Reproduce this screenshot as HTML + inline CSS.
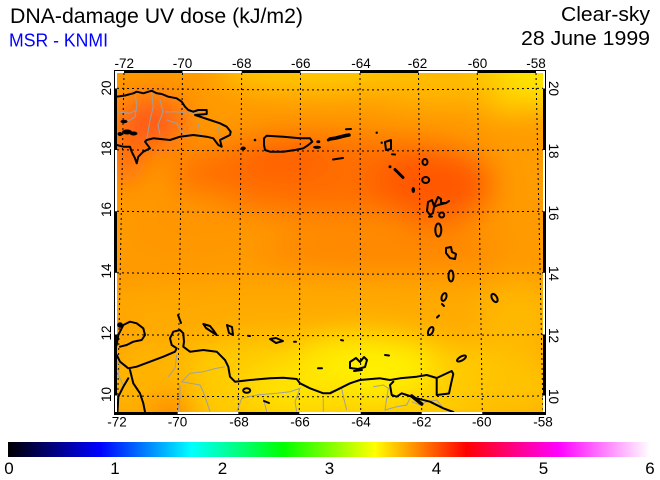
<!DOCTYPE html>
<html><head><meta charset="utf-8"><style>
html,body{margin:0;padding:0;background:#fff;}
svg{display:block;}
text{font-family:"Liberation Sans",Arial,sans-serif;}
</style></head><body>
<svg width="660" height="480" viewBox="0 0 660 480" xmlns="http://www.w3.org/2000/svg">
<defs>
<clipPath id="mc"><rect x="117" y="73" width="426" height="339"/></clipPath>
<filter id="bl" filterUnits="userSpaceOnUse" x="0" y="0" width="660" height="480"><feGaussianBlur stdDeviation="15"/></filter>
<linearGradient id="cb" x1="8" y1="0" x2="650" y2="0" gradientUnits="userSpaceOnUse">
<stop offset="0" stop-color="#000000"/>
<stop offset="0.1429" stop-color="#0000ff"/>
<stop offset="0.2857" stop-color="#00ffff"/>
<stop offset="0.4286" stop-color="#00ff00"/>
<stop offset="0.5714" stop-color="#ffff00"/>
<stop offset="0.7143" stop-color="#ff0000"/>
<stop offset="0.8571" stop-color="#ff00ff"/>
<stop offset="1" stop-color="#ffffff"/>
</linearGradient>
</defs>

<text x="10" y="23" font-size="21" textLength="293" lengthAdjust="spacingAndGlyphs" fill="#000">DNA-damage UV dose (kJ/m2)</text>
<text x="9" y="46.5" font-size="18" textLength="99" lengthAdjust="spacingAndGlyphs" fill="#0000ff">MSR - KNMI</text>
<text x="561" y="21" font-size="20.5" textLength="89" lengthAdjust="spacingAndGlyphs" fill="#000">Clear-sky</text>
<text x="521" y="45" font-size="20" textLength="129" lengthAdjust="spacingAndGlyphs" fill="#000">28 June 1999</text>

<g clip-path="url(#mc)">
<rect x="100" y="60" width="460" height="370" fill="#ff9a00"/>
<g filter="url(#bl)">
<rect x="80" y="40" width="500" height="410" fill="#ff9a00"/>
<ellipse cx="330" cy="66" rx="115" ry="25" fill="#ffca00"/>
<ellipse cx="545" cy="72" rx="85" ry="42" fill="#ffe600"/>
<ellipse cx="440" cy="82" rx="75" ry="20" fill="#ffbc00"/>
<ellipse cx="150" cy="122" rx="38" ry="28" fill="#ff5a18"/>
<ellipse cx="125" cy="160" rx="20" ry="25" fill="#ff6810"/>
<ellipse cx="330" cy="175" rx="160" ry="42" fill="#ff6e00"/>
<ellipse cx="285" cy="155" rx="45" ry="22" fill="#ff6000"/>
<ellipse cx="435" cy="185" rx="60" ry="40" fill="#ff5800"/>
<ellipse cx="535" cy="160" rx="35" ry="60" fill="#ff9c00"/>
<ellipse cx="190" cy="222" rx="55" ry="30" fill="#ff9600"/>
<ellipse cx="380" cy="250" rx="120" ry="25" fill="#ff8800"/>
<ellipse cx="330" cy="310" rx="260" ry="30" fill="#ffaa00"/>
<ellipse cx="330" cy="385" rx="240" ry="50" fill="#ffcc00"/>
<ellipse cx="365" cy="368" rx="70" ry="32" fill="#fff000"/>
<ellipse cx="300" cy="388" rx="50" ry="25" fill="#ffe400"/>
<ellipse cx="150" cy="380" rx="45" ry="45" fill="#ffb400"/>
<ellipse cx="172" cy="414" rx="20" ry="14" fill="#ff6a00"/>
<ellipse cx="515" cy="392" rx="50" ry="30" fill="#ffc200"/>
<ellipse cx="520" cy="320" rx="40" ry="40" fill="#ffb800"/>
</g>

<g stroke="#000" stroke-width="1" stroke-dasharray="2 3" fill="none">
<line x1="124" y1="73" x2="117.5" y2="412"/>
<line x1="182.5" y1="73" x2="177.7" y2="412"/>
<line x1="241.7" y1="73" x2="238.3" y2="412"/>
<line x1="300.5" y1="73" x2="299.3" y2="412"/>
<line x1="360" y1="73" x2="360.7" y2="412"/>
<line x1="418.5" y1="73" x2="421.7" y2="412"/>
<line x1="477.3" y1="73" x2="482.3" y2="412"/>
<line x1="536" y1="73" x2="543" y2="412"/>
<path d="M117,88.3 Q330,91.5 543,88.3"/>
<path d="M117,149.8 Q330,152.2 543,149.8"/>
<path d="M117,211.3 Q330,214 543,211.3"/>
<path d="M117,272.8 Q330,275.5 543,272.8"/>
<path d="M117,334.7 Q330,336.5 543,334.7"/>
<path d="M117,396 Q330,397.5 543,396"/>
</g>

<g stroke="#a0a0a0" stroke-width="1" fill="none">
<polyline points="151.7,91 152.5,101.7 153.3,106.7 150,120 146.7,140"/>
<polyline points="116.7,111.7 130,113.3 136.7,110"/>
<polyline points="135,95 137,105 135,117 130,120 125,122"/>
<polyline points="166.7,120 176.7,123.3 183.3,133.3 188.3,135"/>
<polyline points="165,112 176.7,111.7 186.7,113.3 200,113"/>
<polyline points="198.3,123.3 200,133.3 201.7,138.3"/>
<polyline points="218.3,126.7 220,136.7 225,141.7"/>
<polyline points="160,100 163,112 158,125 160,135"/>
<polyline points="116.7,361.7 120,365 118.3,375 123.3,385"/>
<polyline points="176.7,355 175,368.3 168.3,376.7"/>
<polyline points="181.7,381.7 190,373.3 203.3,371.7 216.7,368.3 225,366.7"/>
<polyline points="181.7,381.7 200,385 203.3,391.7 206.7,401.7 210,411.7"/>
<polyline points="180,385 180,398 178,412"/>
<polyline points="236.7,411.7 241.7,398.3 256.7,395 276.7,393.3 290,391.7 300,388.3 295,401.7 296.7,411.7"/>
<polyline points="263.3,398.3 266.7,411.7"/>
<polyline points="323.3,398.3 323.3,411.7"/>
<polyline points="330,391.7 341.7,388.3 343.3,396.7 346.7,410"/>
<polyline points="373.3,386.7 383.3,385 388.3,388.3 386.7,398.3 385,410 396.7,406.7 406.7,405 410,398.3"/>
<polyline points="411.7,401.7 420,405 426.7,401.7 436.7,400 443.3,408.3"/>
</g>

<g stroke="#000" stroke-width="2" fill="none" stroke-linejoin="round" stroke-linecap="round">
<path d="M116.7,96.7 L125,95.5 L133.3,93.3 L136.7,91.7 L143.3,93.3 L151.7,90.7 L156.7,93.3 L161.7,94 L168.3,96.7 L176.7,98.3 L181.7,101.7 L185,106.7 L188.3,110 L193.3,111.7 L198.3,110 L206.7,110 L206.7,114 L195,115 L200,116.7 L210,120 L220,123.3 L226.7,126.7 L230.7,131.7 L230,135 L223.3,138.3 L220,140 L221.7,146.7 L218.3,145 L213.3,138.3 L206.7,136.7 L193.3,135 L180,136.7 L170,140 L153.3,138.3 L146.7,140 L145,141.7 L150,148.3 L143.3,151.7 L138.3,156.7 L136.7,163.3 L135,158.3 L131.7,151.7 L130,146.7 L123.3,146.7 L116.7,145"/>
<path d="M264,138.3 L266.7,135.7 L283.3,136.7 L300,138.3 L310,138.3 L312.3,141.7 L308.3,145 L303.3,148.3 L295,150 L283.3,151.7 L270,151.7 L265,150 L264,145 Z"/>
<path d="M330,139 L336,138 L340,137 L346,135.5 L349,135" stroke-width="3.5"/>
<path d="M346,129.3 L351,129"/>
<path d="M333,159.5 L343,158"/>
<path d="M385,142 L391,140 L391,149 L386,150 Z"/>
<path d="M392,154.3 L395,154.5"/>
<path d="M395,169.5 L403,177.5" stroke-width="3"/>
<ellipse cx="425" cy="162" rx="2.5" ry="3"/>
<ellipse cx="425.7" cy="180" rx="3.5" ry="3"/>
<path d="M428,202 L432,200 L434,206 L438,197 L441,199 L441,203 L446,203 L438,205 L434,207 L433,213 L430,215 L427,211 Z"/>
<path d="M446,203 L449,201"/>
<circle cx="441.7" cy="215" r="2.5"/>
<path d="M429,216.7 L432,216.5"/>
<ellipse cx="438.3" cy="230" rx="3" ry="6.5"/>
<path d="M446,248 L451,247 L452,252 L456,254 L455,259 L450,258 L446,253 Z"/>
<ellipse cx="451" cy="276" rx="2.5" ry="5.5"/>
<ellipse cx="444" cy="297" rx="2.3" ry="4" transform="rotate(20 444 297)"/>
<path d="M442,304 L444,306"/>
<path d="M437,317.5 L439,315.5"/>
<ellipse cx="430.7" cy="331" rx="2.3" ry="4.3" transform="rotate(25 430.7 331)"/>
<ellipse cx="494.5" cy="298" rx="2.5" ry="4.5" transform="rotate(-30 494.5 298)"/>
<ellipse cx="461.5" cy="358.5" rx="5" ry="2" transform="rotate(-30 461.5 358.5)"/>
<path d="M116.7,345 L118.3,335 L123.3,325 L130,321.7 L136.7,323.3 L143.3,328.3 L145,335 L141.7,340 L133.3,341.7 L126.7,345 L120,346.7"/>
<path d="M116.7,355 L120,361.7 L128.3,368.3 L136.7,366.7 L150,361.7 L163.3,356.7 L175,351.7 L176.7,348.3 L171.7,345 L170,338.3 L173.3,331.7 L180,330 L183.3,333.3 L184,341.7 L183.3,346.7 L190,351.7 L203.3,350 L216.7,351.7 L225,360 L228.3,366.7 L230,376.7 L235,381.7 L250,380 L270,378.3 L283.3,377.7 L296.7,379 L300,383.3 L310,388.3 L323.3,393.3 L330,393.3 L340,388.3 L350,383.3 L360,380 L380,378.3 L390,380 L400,378.3 L416.7,376.7 L426.7,375 L436.7,378"/>
<path d="M130,370 L133.3,383.3 L140,393.3 L143.3,403.3 L145,412"/>
<path d="M128.3,378.3 L123.3,386.7 L118.3,396.7 L117.5,412"/>
<path d="M393.3,381.7 L390,385 L391.7,395 L396.7,396.7 L401.7,393.3 L406.7,395 L416.7,398.3 L430,401.7 L443.3,408.3 L453.3,412"/>
<path d="M411.7,396 L421.7,404" stroke-width="3.5"/>
<path d="M436.7,378 L451.7,371 L453.3,374 L451,384 L449,393.5 L436.7,395 Z"/>
<path d="M350,362 L356,358 L360,362 L364,357 L367,360 L365,367 L358,369 L350,368 Z"/>
<path d="M354,371 L362,370"/>
<path d="M178,315 L181,323"/>
<path d="M203.3,324 L210,326 L214,331 L216.7,335 L212,332 L206,328 Z"/>
<path d="M227,325 L232,327 L233,335 L229,333 Z"/>
<path d="M248,335.7 L250,336"/>
<path d="M270,339 L276,338 L283,341 L276,343 Z"/>
<path d="M294,341.7 L296,341.7"/>
<path d="M318,368.3 L322,368.3"/>
<ellipse cx="246.7" cy="390.5" rx="3.5" ry="2.3"/>
<path d="M264,401 L269,403"/>
<path d="M341,340 L343,340.5"/>
<path d="M385,355 L389,355.5"/>
</g>
<g fill="#000">
<circle cx="255" cy="140" r="1.3"/>
<ellipse cx="243.3" cy="148.3" rx="2.5" ry="1.8"/>
<ellipse cx="318.3" cy="141.7" rx="2" ry="1.5"/>
<ellipse cx="317" cy="147.3" rx="4" ry="1.6"/>
<circle cx="328.3" cy="140" r="1.5"/>
<circle cx="376.7" cy="132.7" r="1.2"/>
<circle cx="381.7" cy="142.7" r="1.2"/>
<circle cx="390" cy="166.7" r="1.5"/>
<ellipse cx="413.3" cy="190" rx="1.8" ry="3"/>
<ellipse cx="127" cy="132" rx="5" ry="2.5"/>
<ellipse cx="133.5" cy="133.5" rx="4" ry="2"/>
<ellipse cx="120" cy="134" rx="2.5" ry="2"/>
<ellipse cx="124" cy="121.5" rx="3.5" ry="1.8"/>
<circle cx="120" cy="325" r="2.8"/>
</g>
</g>

<rect x="114.5" y="70.5" width="431" height="344" fill="none" stroke="#000" stroke-width="1"/>
<g fill="#000">
<rect x="124" y="70" width="58.5" height="3"/>
<rect x="241.7" y="70" width="58.8" height="3"/>
<rect x="360" y="70" width="58.5" height="3"/>
<rect x="477.3" y="70" width="58.7" height="3"/>
<rect x="114" y="412" width="63.7" height="3"/>
<rect x="238.3" y="412" width="61" height="3"/>
<rect x="360.7" y="412" width="61" height="3"/>
<rect x="482.3" y="412" width="63.7" height="3"/>
<rect x="114" y="88.5" width="3" height="61.5"/>
<rect x="114" y="211.3" width="3" height="61.5"/>
<rect x="114" y="334.5" width="3" height="61"/>
<rect x="543" y="88.5" width="3" height="61.5"/>
<rect x="543" y="211.3" width="3" height="61.5"/>
<rect x="543" y="334.5" width="3" height="61"/>
</g>

<g font-size="13.5" fill="#000" text-anchor="middle">
<text x="124.3" y="68">-72</text>
<text x="182.5" y="68">-70</text>
<text x="241.7" y="68">-68</text>
<text x="300.8" y="68">-66</text>
<text x="361" y="68">-64</text>
<text x="417.5" y="68">-62</text>
<text x="477.5" y="68">-60</text>
<text x="536" y="68">-58</text>
<text x="117" y="426.5">-72</text>
<text x="177.5" y="426.5">-70</text>
<text x="239" y="426.5">-68</text>
<text x="300" y="426.5">-66</text>
<text x="361" y="426.5">-64</text>
<text x="421.7" y="426.5">-62</text>
<text x="481.7" y="426.5">-60</text>
<text x="543" y="426.5">-58</text>
<text transform="translate(111,88) rotate(-90)">20</text>
<text transform="translate(111,148.5) rotate(-90)">18</text>
<text transform="translate(111,209.5) rotate(-90)">16</text>
<text transform="translate(111,271) rotate(-90)">14</text>
<text transform="translate(111,333) rotate(-90)">12</text>
<text transform="translate(111,394.5) rotate(-90)">10</text>
<text transform="translate(549,88.5) rotate(90)">20</text>
<text transform="translate(549,151) rotate(90)">18</text>
<text transform="translate(549,213) rotate(90)">16</text>
<text transform="translate(549,273.5) rotate(90)">14</text>
<text transform="translate(549,335.5) rotate(90)">12</text>
<text transform="translate(549,396.5) rotate(90)">10</text>
</g>

<rect x="8" y="442" width="642" height="15" fill="url(#cb)"/>
<g font-size="17" fill="#000" text-anchor="middle">
<text x="9" y="474">0</text>
<text x="115" y="474">1</text>
<text x="222.5" y="474">2</text>
<text x="329.5" y="474">3</text>
<text x="436.5" y="474">4</text>
<text x="543.5" y="474">5</text>
<text x="650" y="474">6</text>
</g>
</svg>
</body></html>
